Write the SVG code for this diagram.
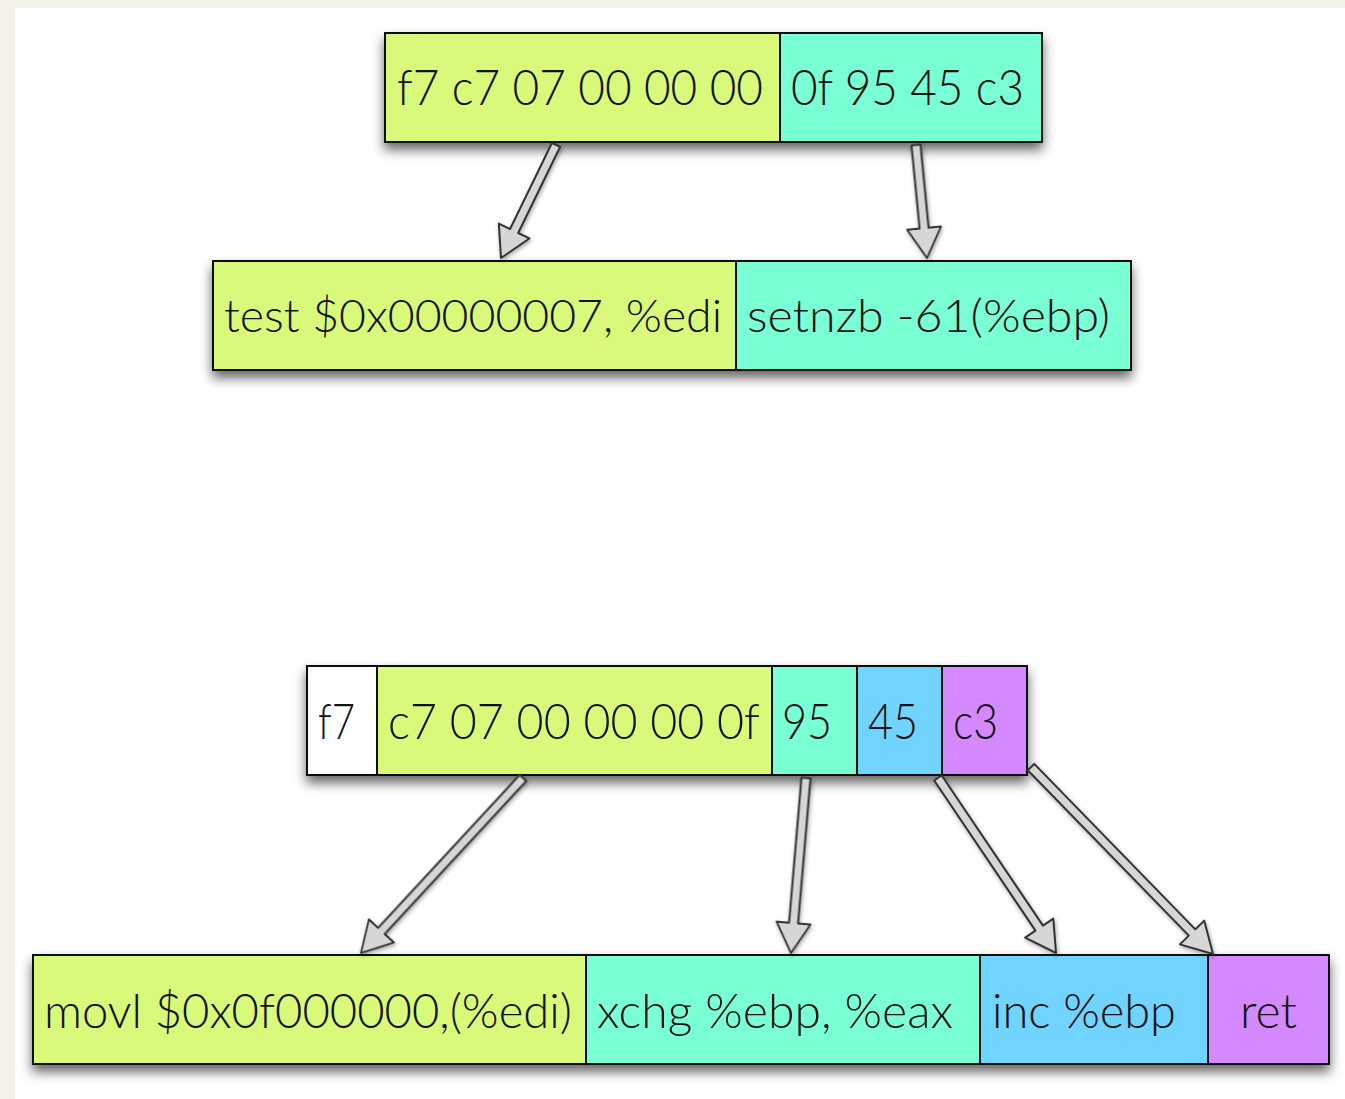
<svg xmlns="http://www.w3.org/2000/svg" width="1345" height="1099" viewBox="0 0 1345 1099">
<defs>
<filter id="sh" x="-10%" y="-20%" width="120%" height="170%">
<feDropShadow dx="0" dy="7" stdDeviation="6" flood-color="#000" flood-opacity="0.6"/>
</filter>
<filter id="ash" x="-20%" y="-20%" width="140%" height="140%">
<feDropShadow dx="1" dy="2" stdDeviation="2" flood-color="#000" flood-opacity="0.35"/>
</filter>
</defs>
<style>
.c { stroke: #111; stroke-width: 2; }
.g { fill: #d8f97a; }
.t { fill: #7affd5; }
.b { fill: #70d4fe; }
.p { fill: #d48afe; }
.w { fill: #ffffff; }
text { font-family: Lato, "Open Sans", "Liberation Sans", sans-serif; font-weight: 300; fill: #111; }
.arrow { fill: #d6d6d6; stroke: #333; stroke-width: 2; stroke-linejoin: round; }
</style>
<rect x="0" y="0" width="1345" height="1099" fill="#ffffff"/>
<rect x="0" y="0" width="1345" height="8" fill="#f4f1ea"/>
<rect x="0" y="0" width="15" height="1099" fill="#f4f1ea"/>

<g id="row1" filter="url(#sh)">
<rect class="c g" x="385" y="33" width="395" height="109"/>
<rect class="c t" x="780" y="33" width="262" height="109"/>
</g>
<g id="row1-text" font-size="50">
<text x="397" y="105" textLength="366" lengthAdjust="spacingAndGlyphs">f7 c7 07 00 00 00</text>
<text x="791" y="105" textLength="233" lengthAdjust="spacingAndGlyphs">0f 95 45 c3</text>
</g>

<g id="row2" filter="url(#sh)">
<rect class="c g" x="213" y="261" width="523" height="109"/>
<rect class="c t" x="736" y="261" width="395" height="109"/>
</g>
<g id="row2-text" font-size="45">
<text x="224" y="332" textLength="498" lengthAdjust="spacingAndGlyphs">test $0x00000007, %edi</text>
<text x="747" y="332" textLength="363" lengthAdjust="spacingAndGlyphs">setnzb -61(%ebp)</text>
</g>

<g id="row3" filter="url(#sh)">
<rect class="c w" x="307" y="666" width="70" height="109"/>
<rect class="c g" x="377" y="666" width="395" height="109"/>
<rect class="c t" x="772" y="666" width="85" height="109"/>
<rect class="c b" x="857" y="666" width="85" height="109"/>
<rect class="c p" x="942" y="666" width="85" height="109"/>
</g>
<g id="row3-text" font-size="50">
<text x="318" y="739" textLength="37" lengthAdjust="spacingAndGlyphs">f7</text>
<text x="388" y="739" textLength="372" lengthAdjust="spacingAndGlyphs">c7 07 00 00 00 0f</text>
<text x="782" y="739" textLength="50" lengthAdjust="spacingAndGlyphs">95</text>
<text x="868" y="739" textLength="50" lengthAdjust="spacingAndGlyphs">45</text>
<text x="953" y="739" textLength="45" lengthAdjust="spacingAndGlyphs">c3</text>
</g>

<g id="row4" filter="url(#sh)">
<rect class="c g" x="33" y="955" width="553" height="109"/>
<rect class="c t" x="586" y="955" width="394" height="109"/>
<rect class="c b" x="980" y="955" width="228" height="109"/>
<rect class="c p" x="1208" y="955" width="121" height="109"/>
</g>
<g id="row4-text" font-size="48">
<text x="44" y="1028" textLength="528" lengthAdjust="spacingAndGlyphs">movl $0x0f000000,(%edi)</text>
<text x="597" y="1028" textLength="356" lengthAdjust="spacingAndGlyphs">xchg %ebp, %eax</text>
<text x="992" y="1028" textLength="184" lengthAdjust="spacingAndGlyphs">inc %ebp</text>
<text x="1240" y="1028" textLength="57" lengthAdjust="spacingAndGlyphs">ret</text>
</g>

<g id="connectors" filter="url(#ash)">
<polygon class="arrow" transform="translate(501,258) rotate(115.95)" points="-125.7,-4.5 -30,-4.5 -30,-17 0,0 -30,17 -30,4.5 -125.7,4.5"/>
<polygon class="arrow" transform="translate(927,258) rotate(84.44)" points="-113.5,-4.5 -30,-4.5 -30,-17 0,0 -30,17 -30,4.5 -113.5,4.5"/>
<polygon class="arrow" transform="translate(361,953) rotate(132.79)" points="-238.5,-4.5 -30,-4.5 -30,-17 0,0 -30,17 -30,4.5 -238.5,4.5"/>
<polygon class="arrow" transform="translate(791,953) rotate(94.9)" points="-175.6,-4.5 -30,-4.5 -30,-17 0,0 -30,17 -30,4.5 -175.6,4.5"/>
<polygon class="arrow" transform="translate(1056,953) rotate(56)" points="-211.1,-4.5 -30,-4.5 -30,-17 0,0 -30,17 -30,4.5 -211.1,4.5"/>
<polygon class="arrow" transform="translate(1213,954) rotate(45.77)" points="-260.9,-4.5 -30,-4.5 -30,-17 0,0 -30,17 -30,4.5 -260.9,4.5"/>
</g>
</svg>
